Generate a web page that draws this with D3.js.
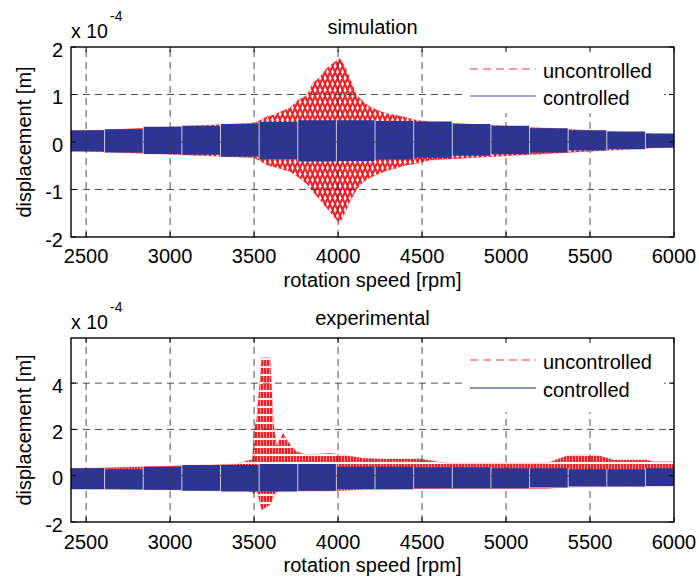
<!DOCTYPE html>
<html>
<head>
<meta charset="utf-8">
<script src="https://cdn.jsdelivr.net/npm/d3@7"></script>
<style>
  body { margin: 0; background: #fff; }
  text { font-family: "Liberation Sans", Arial, sans-serif; fill: #000; }
</style>
</head>
<body>
<div id="chart"></div>
<script>
// x axis (rotation speed, rpm)
var rpmTicks = [2500, 3000, 3500, 4000, 4500, 5000, 5500, 6000];

// segment boundaries of the controlled run (white seams in the blue band)
var segEdges = [2410, 2610, 2840, 3070, 3300, 3530, 3760, 3990, 4220, 4450, 4680, 4910, 5140, 5370, 5600, 5830, 6000];

// simulation, controlled envelope per segment (x 1e-4 m)
var simCtrlUpper = [0.25, 0.27, 0.32, 0.34, 0.38, 0.42, 0.46, 0.46, 0.44, 0.43, 0.38, 0.34, 0.29, 0.25, 0.22, 0.18];
var simCtrlLower = [-0.20, -0.22, -0.25, -0.27, -0.31, -0.36, -0.41, -0.40, -0.37, -0.33, -0.29, -0.26, -0.22, -0.18, -0.15, -0.12];

// simulation, uncontrolled envelope
var simUncRpm   = [2410, 3500, 3535, 3575, 3613, 3714, 3760, 3813, 3851, 3893, 3932, 3970, 4010, 4040, 4070, 4110, 4150, 4190, 4250, 4290, 4350, 4388, 4468, 4550, 6000];
var simUncUpper = [0.22, 0.40, 0.46, 0.53, 0.57, 0.72, 0.88, 0.98, 1.24, 1.37, 1.55, 1.66, 1.76, 1.60, 1.34, 0.99, 0.85, 0.74, 0.65, 0.60, 0.56, 0.53, 0.46, 0.42, 0.15];
var simUncLower = [-0.18, -0.33, -0.40, -0.48, -0.52, -0.62, -0.73, -0.88, -1.05, -1.22, -1.39, -1.55, -1.71, -1.50, -1.26, -1.00, -0.84, -0.75, -0.66, -0.60, -0.55, -0.50, -0.45, -0.38, -0.10];

// experimental, controlled envelope per segment
var expCtrlUpper = [0.32, 0.28, 0.39, 0.46, 0.46, 0.51, 0.51, 0.39, 0.39, 0.37, 0.37, 0.32, 0.32, 0.28, 0.28, 0.32];
var expCtrlLower = [-0.58, -0.58, -0.61, -0.65, -0.68, -0.68, -0.65, -0.57, -0.58, -0.54, -0.54, -0.54, -0.51, -0.47, -0.47, -0.44];

// experimental, uncontrolled envelope
var expUncRpm   = [2410, 3400, 3450, 3490, 3500, 3515, 3535, 3545, 3595, 3605, 3615, 3635, 3650, 3674, 3695, 3724, 3754, 3813, 3952, 4150, 4250, 4490, 4647, 5242, 5360, 5480, 5560, 5637, 5840, 5875, 6000];
var expUncUpper = [0.30, 0.50, 0.62, 0.70, 2.00, 2.40, 4.10, 5.10, 5.10, 3.70, 2.26, 1.25, 1.54, 1.84, 1.54, 1.25, 1.04, 0.90, 0.97, 0.75, 0.72, 0.72, 0.54, 0.54, 0.85, 0.90, 0.85, 0.68, 0.68, 0.60, 0.60];
var expUncLower = [-0.55, -0.65, -0.65, -0.70, -0.80, -0.60, -1.17, -1.47, -1.26, -1.10, -0.90, -0.68, -0.66, -0.66, -0.66, -0.66, -0.66, -0.66, -0.66, -0.60, -0.58, -0.56, -0.55, -0.55, -0.50, -0.48, -0.48, -0.48, -0.46, -0.45, -0.45];

var simYTicks = [-2, -1, 0, 1, 2];
var expYTicks = [-2, 0, 2, 4];

var legendNames = ["uncontrolled", "controlled"];

var red = "#ec2229", blue = "#2e3492";

var width = 699, height = 585;
var left = 71, right = 674;

var svg = d3.select("#chart").append("svg")
    .attr("width", width)
    .attr("height", height);

var defs = svg.append("defs");

defs.append("pattern")
    .attr("id", "hatchSim")
    .attr("width", 5).attr("height", 12)
    .attr("patternUnits", "userSpaceOnUse")
    .append("path")
    .attr("d", "M0,0 L5,12 M5,0 L0,12 M-1,9.6 L1,14.4 M4,-2.4 L6,2.4 M-1,2.4 L1,-2.4 M4,14.4 L6,9.6")
    .attr("stroke", red)
    .attr("stroke-width", 2.1)
    .attr("fill", "none");

var pExp = defs.append("pattern")
    .attr("id", "hatchExp")
    .attr("width", 3).attr("height", 8)
    .attr("patternUnits", "userSpaceOnUse");
pExp.append("rect").attr("x", 0).attr("y", 0).attr("width", 2.5).attr("height", 6).attr("fill", red);

var x = d3.scaleLinear().domain([2410, 6000]).range([left, right]);

var panels = [
    { id: "sim", top: 47, bottom: 237, yDomain: [-2, 2], yTicks: simYTicks, title: "simulation",
      titleY: 34, expY: 38, supY: 21, xTickY: 263, xLabelY: 287, legY: [69, 96], legBox: [47, 113],
      ctrlUpper: simCtrlUpper, ctrlLower: simCtrlLower,
      uncRpm: simUncRpm, uncUpper: simUncUpper, uncLower: simUncLower,
      hatch: "url(#hatchSim)", legBlue: "#7f86c2", legBlueW: 1.6 },
    { id: "exp", top: 338, bottom: 522, yDomain: [-2, 5.95], yTicks: expYTicks, title: "experimental",
      titleY: 325, expY: 329, supY: 312, xTickY: 549, xLabelY: 572, legY: [360, 388], legBox: [338, 412],
      ctrlUpper: expCtrlUpper, ctrlLower: expCtrlLower,
      uncRpm: expUncRpm, uncUpper: expUncUpper, uncLower: expUncLower,
      hatch: "url(#hatchExp)", legBlue: "#1f2470", legBlueW: 1 }
];

panels.forEach(function(p) {
    var y = d3.scaleLinear().domain(p.yDomain).range([p.bottom, p.top]);

    defs.append("clipPath").attr("id", "clip-" + p.id)
        .append("rect")
        .attr("x", left).attr("y", p.top)
        .attr("width", right - left).attr("height", p.bottom - p.top);

    var g = svg.append("g").attr("clip-path", "url(#clip-" + p.id + ")");

    // uncontrolled
    var unc = p.uncRpm.map(function(r, i) { return { r: r, hi: p.uncUpper[i], lo: p.uncLower[i] }; });
    var uncArea = d3.area()
        .x(function(d) { return x(d.r); })
        .y0(function(d) { return y(d.lo); })
        .y1(function(d) { return y(d.hi); });
    g.append("path").datum(unc)
        .attr("d", uncArea)
        .attr("fill", p.hatch)
        .attr("stroke", red)
        .attr("stroke-width", 0.6)
        .attr("stroke-opacity", 0.5);

    // controlled, one block per segment
    var ctrl = p.ctrlUpper.map(function(v, i) { return { r: segEdges[i], hi: v, lo: p.ctrlLower[i] }; });
    ctrl.push({ r: 6000, hi: p.ctrlUpper[p.ctrlUpper.length - 1], lo: p.ctrlLower[p.ctrlLower.length - 1] });
    var ctrlArea = d3.area()
        .curve(d3.curveStepAfter)
        .x(function(d) { return x(d.r); })
        .y0(function(d) { return y(d.lo); })
        .y1(function(d) { return y(d.hi); });
    g.append("path").datum(ctrl)
        .attr("d", ctrlArea)
        .attr("fill", blue);

    // seams between segments
    g.selectAll("line.seam")
        .data(segEdges.slice(1, -1))
        .enter().append("line")
        .attr("class", "seam")
        .attr("x1", function(d) { return x(d); })
        .attr("x2", function(d) { return x(d); })
        .attr("y1", function(d, i) { return y(Math.max(p.ctrlUpper[i], p.ctrlUpper[i + 1])); })
        .attr("y2", function(d, i) { return y(Math.min(p.ctrlLower[i], p.ctrlLower[i + 1])); })
        .attr("stroke", "#fff")
        .attr("stroke-opacity", 0.75)
        .attr("stroke-width", 1);

    // grid on top (MATLAB style)
    var grid = svg.append("g")
        .attr("stroke", "#3a3a3a")
        .attr("stroke-width", 0.9)
        .attr("stroke-dasharray", "7,5");
    grid.selectAll("line.vg")
        .data(rpmTicks.filter(function(t) { return t < 6000; }))
        .enter().append("line")
        .attr("x1", function(d) { return x(d); })
        .attr("x2", function(d) { return x(d); })
        .attr("y1", p.bottom).attr("y2", p.top);
    grid.selectAll("line.hg")
        .data(p.yTicks.filter(function(t) { return t > p.yDomain[0] && t < p.yDomain[1]; }))
        .enter().append("line")
        .attr("x1", left).attr("x2", right)
        .attr("y1", function(d) { return y(d); })
        .attr("y2", function(d) { return y(d); });

    // legend
    var lg = svg.append("g");
    lg.append("rect")
        .attr("x", 464).attr("y", p.legBox[0] + 1)
        .attr("width", 200).attr("height", p.legBox[1] - p.legBox[0] - 1)
        .attr("fill", "#fff");
    lg.append("line")
        .attr("x1", 470).attr("x2", 536)
        .attr("y1", p.legY[0]).attr("y2", p.legY[0])
        .attr("stroke", "#f27a7e").attr("stroke-width", 1.6)
        .attr("stroke-dasharray", "8,5");
    lg.append("line")
        .attr("x1", 470).attr("x2", 536)
        .attr("y1", p.legY[1]).attr("y2", p.legY[1])
        .attr("stroke", p.legBlue).attr("stroke-width", p.legBlueW);
    lg.selectAll("text")
        .data(legendNames)
        .enter().append("text")
        .attr("x", 543)
        .attr("y", function(d, i) { return p.legY[i] + 9; })
        .attr("font-size", "20px")
        .text(function(d) { return d; });

    // axes frame
    svg.append("rect")
        .attr("x", left).attr("y", p.top)
        .attr("width", right - left).attr("height", p.bottom - p.top)
        .attr("fill", "none")
        .attr("stroke", "#000")
        .attr("stroke-width", 1.4);

    // inward ticks on all sides
    var ax = svg.append("g").attr("stroke", "#000").attr("stroke-width", 1);
    rpmTicks.forEach(function(t) {
        ax.append("line").attr("x1", x(t)).attr("x2", x(t)).attr("y1", p.bottom).attr("y2", p.bottom - 5);
        ax.append("line").attr("x1", x(t)).attr("x2", x(t)).attr("y1", p.top).attr("y2", p.top + 5);
    });
    p.yTicks.forEach(function(t) {
        ax.append("line").attr("x1", left).attr("x2", left + 5).attr("y1", y(t)).attr("y2", y(t));
        ax.append("line").attr("x1", right).attr("x2", right - 5).attr("y1", y(t)).attr("y2", y(t));
    });

    // tick labels
    svg.append("g").selectAll("text")
        .data(rpmTicks)
        .enter().append("text")
        .attr("x", function(d) { return x(d); })
        .attr("y", p.xTickY)
        .attr("text-anchor", "middle")
        .attr("font-size", "20px")
        .text(function(d) { return d; });
    svg.append("g").selectAll("text")
        .data(p.yTicks)
        .enter().append("text")
        .attr("x", 63)
        .attr("y", function(d) { return y(d) + 9.5; })
        .attr("text-anchor", "end")
        .attr("font-size", "20px")
        .text(function(d) { return d; });

    // titles and labels
    svg.append("text")
        .attr("x", (left + right) / 2)
        .attr("y", p.titleY)
        .attr("text-anchor", "middle")
        .attr("font-size", "20px")
        .text(p.title);
    svg.append("text")
        .attr("x", left)
        .attr("y", p.expY)
        .attr("font-size", "19.5px")
        .text("x 10");
    svg.append("text")
        .attr("x", 110)
        .attr("y", p.supY)
        .attr("font-size", "14px")
        .text("-4");
    svg.append("text")
        .attr("x", (left + right) / 2)
        .attr("y", p.xLabelY)
        .attr("text-anchor", "middle")
        .attr("font-size", "20px")
        .text("rotation speed [rpm]");
    svg.append("text")
        .attr("transform", "translate(31," + ((p.top + p.bottom) / 2) + ") rotate(-90)")
        .attr("text-anchor", "middle")
        .attr("font-size", "20px")
        .text("displacement [m]");
});
</script>
</body>
</html>
